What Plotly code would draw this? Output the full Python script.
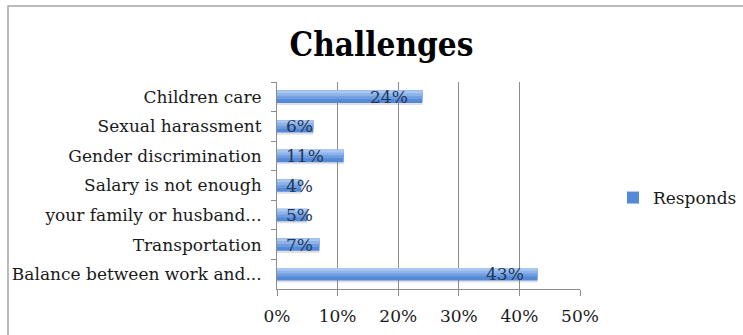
import plotly.graph_objects as go

# Survey results: share of respondents citing each challenge
categories = [
    "Children care",
    "Sexual harassment",
    "Gender discrimination",
    "Salary is not enough",
    "your family or husband...",
    "Transportation",
    "Balance between work and...",
]
responds = [24, 6, 11, 4, 5, 7, 43]
x_ticks = [0, 10, 20, 30, 40, 50]
x_tick_labels = ["0%", "10%", "20%", "30%", "40%", "50%"]
series_name = "Responds"

FONT = "DejaVu Serif"
TEXT = "#1a1a1a"
LABEL = "#22365a"
AXIS = "#8c8c8c"

W, H = 743, 335
L, R, T, B = 277, 163, 82, 46
pw, ph = W - L - R, H - T - B


def px_x(px):
    return (px - L) / pw


def px_y(py):
    return (H - B - py) / ph


fig = go.Figure()

# soft shadow under each bar
fig.add_trace(go.Bar(
    y=categories, x=responds, orientation="h",
    width=0.44, offset=-0.16,
    marker=dict(color="rgba(110,120,140,0.22)", line=dict(width=0)),
    showlegend=False, hoverinfo="skip",
))
# main bar (darker lower edge)
fig.add_trace(go.Bar(
    y=categories, x=responds, orientation="h", name=series_name,
    width=0.42, offset=-0.21,
    marker=dict(color="#5389d6", line=dict(width=0)),
))
# lighter bands toward the top edge give the bars a rounded look
for w, c in [(0.29, "#6f9ddf"), (0.19, "#8db3e8"), (0.09, "#a9c8f1")]:
    fig.add_trace(go.Bar(
        y=categories, x=responds, orientation="h",
        width=w, offset=-0.21,
        marker=dict(color=c, line=dict(width=0)),
        showlegend=False, hoverinfo="skip",
    ))

# value labels: inside the bar end when it fits, else just inside the start
annotations = []
for cat, v in zip(categories, responds):
    if v >= 15:
        pos = dict(x=v, xanchor="right", xshift=-12)
    else:
        pos = dict(x=0, xanchor="left", xshift=7)
    annotations.append(dict(y=cat, xref="x", yref="y", text=f"{v}%",
                            yshift=0, showarrow=False,
                            font=dict(family=FONT, size=17, color=LABEL), **pos))

fig.update_layout(
    width=W, height=H,
    margin=dict(l=L, r=R, t=T, b=B, pad=0, autoexpand=False),
    paper_bgcolor="white", plot_bgcolor="white",
    barmode="overlay",
    font=dict(family=FONT, size=17, color=TEXT),
    title=dict(text="<b>Challenges</b>", x=381.5 / W, xanchor="center",
               y=1 - 44 / H, yanchor="middle",
               font=dict(family="DejaVu Serif Condensed", size=33, color="black")),
    xaxis=dict(range=[0, 50], tickvals=x_ticks, ticktext=x_tick_labels,
               showgrid=True, gridcolor=AXIS, gridwidth=1,
               showline=True, linecolor=AXIS, linewidth=1,
               ticks="outside", ticklen=6, tickcolor=AXIS,
               tickfont=dict(family=FONT, size=17, color=TEXT),
               ticklabelstandoff=6,
               zeroline=False, fixedrange=True),
    yaxis=dict(autorange="reversed", showline=True, linecolor=AXIS, linewidth=1,
               ticks="outside", ticklen=5, tickcolor=AXIS, tickson="boundaries",
               tickfont=dict(family=FONT, size=17, color=TEXT),
               ticklabelstandoff=11, showgrid=False, fixedrange=True),
    legend=dict(xref="container", yref="container",
                x=613 / W, y=1 - 198 / H, xanchor="left", yanchor="middle",
                font=dict(family=FONT, size=17, color=TEXT),
                bgcolor="rgba(0,0,0,0)", itemwidth=30),
    annotations=annotations,
    shapes=[dict(type="rect", xref="paper", yref="paper",
                 x0=px_x(8), x1=px_x(800), y0=px_y(400), y1=px_y(6),
                 line=dict(color="#a6a6a6", width=1.5), layer="below")],
)

fig.write_html("out.html")
